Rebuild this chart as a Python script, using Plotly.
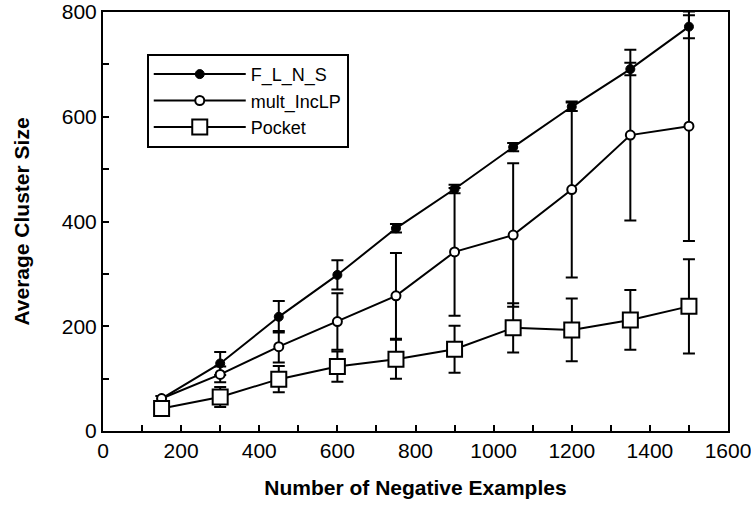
import plotly.graph_objects as go

x_vals = [150, 300, 450, 600, 750, 900, 1050, 1200, 1350, 1500]

flns = [62, 129, 218, 298, 387, 462, 542, 619, 691, 772]
flns_err = [5, 22, 30, 28, 8, 8, 8, 8, 12, 22]

mult = [62, 108, 161, 209, 258, 342, 374, 461, 565, 582]
mult_err = [5, 15, 30, 54, 82, 122, 137, 168, 163, 219]

pocket = [43, 65, 99, 123, 137, 156, 197, 193, 212, 238]
pocket_err = [8, 19, 25, 29, 37, 45, 47, 60, 57, 90]

names = ["F_L_N_S", "mult_IncLP", "Pocket"]

font = "Liberation Sans, Arial, Helvetica, sans-serif"

fig = go.Figure()

def err(v):
    return dict(type="data", array=v, visible=True, color="black", thickness=2, width=6)

fig.add_trace(go.Scatter(
    x=x_vals, y=flns, name=names[0], mode="lines+markers",
    line=dict(color="black", width=2),
    marker=dict(symbol="circle", size=9, color="black", line=dict(color="black", width=1)),
    error_y=err(flns_err)))
fig.add_trace(go.Scatter(
    x=x_vals, y=mult, name=names[1], mode="lines+markers",
    line=dict(color="black", width=2),
    marker=dict(symbol="circle", size=9, color="white", line=dict(color="black", width=2)),
    error_y=err(mult_err)))
fig.add_trace(go.Scatter(
    x=x_vals, y=pocket, name=names[2], mode="lines+markers",
    line=dict(color="black", width=2),
    marker=dict(symbol="square", size=15, color="white", line=dict(color="black", width=2)),
    error_y=err(pocket_err)))

axis_common = dict(
    showline=True, linecolor="black", linewidth=2, mirror=True,
    showgrid=False, zeroline=False,
    ticks="inside", ticklen=6, tickwidth=2, tickcolor="black",
    tickfont=dict(family=font, size=21, color="black"),
    ticklabeloverflow="allow",
    minor=dict(ticks="inside", ticklen=6, tickwidth=2, tickcolor="black", dtick=100),
)

fig.update_xaxes(range=[0, 1600], dtick=200, tick0=0,
                 title=dict(text="<b>Number of Negative Examples</b>",
                            font=dict(family=font, size=21, color="black"), standoff=19),
                 **axis_common)
fig.update_yaxes(range=[0, 800], dtick=200, tick0=0,
                 title=dict(text="<b>Average Cluster Size</b>",
                            font=dict(family=font, size=21, color="black"), standoff=26),
                 **axis_common)

fig.update_layout(
    width=751, height=510,
    margin=dict(l=103, r=23, t=12, b=79, autoexpand=False),
    paper_bgcolor="white", plot_bgcolor="white",
    font=dict(family=font, color="black"),
    legend=dict(x=0.07, y=0.9, xanchor="left", yanchor="top",
                bgcolor="white", bordercolor="black", borderwidth=2,
                font=dict(family=font, size=18, color="black"),
                itemwidth=92, tracegroupgap=0),
    showlegend=True,
)

fig.write_html("out.html")
